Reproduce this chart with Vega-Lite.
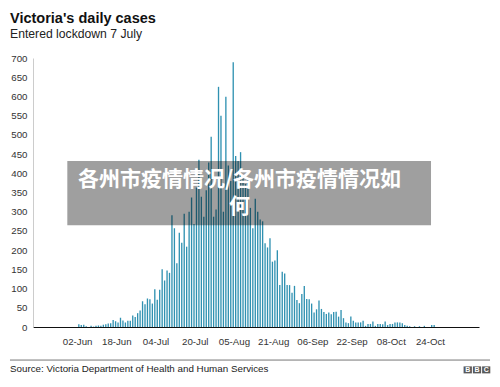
{
  "$schema": "https://vega.github.io/schema/vega-lite/v6.json",
  "width": 446,
  "height": 269,
  "autosize": {"type": "none"},
  "padding": {"left": 33, "top": 58, "right": 21, "bottom": 60},
  "background": "white",
  "title": {
    "text": "Victoria's daily cases",
    "subtitle": "Entered lockdown 7 July",
    "anchor": "start",
    "frame": "group",
    "dx": -23,
    "offset": 12,
    "font": "Liberation Sans",
    "fontSize": 14.5,
    "fontWeight": "bold",
    "color": "#111111",
    "subtitleFont": "Liberation Sans",
    "subtitleFontSize": 12.2,
    "subtitleColor": "#222222",
    "subtitlePadding": 1
  },
  "config": {"view": {"stroke": null}},
  "resolve": {"axis": {"x": "independent", "y": "independent"}},
  "datasets": {
    "cases": [
      {"date": "2020-06-02", "cases": 7}, {"date": "2020-06-03", "cases": 5}, {"date": "2020-06-04", "cases": 6},
      {"date": "2020-06-05", "cases": 2}, {"date": "2020-06-06", "cases": 0}, {"date": "2020-06-07", "cases": 3},
      {"date": "2020-06-08", "cases": 1}, {"date": "2020-06-09", "cases": 3}, {"date": "2020-06-10", "cases": 4},
      {"date": "2020-06-11", "cases": 3}, {"date": "2020-06-12", "cases": 6}, {"date": "2020-06-13", "cases": 7},
      {"date": "2020-06-14", "cases": 9}, {"date": "2020-06-15", "cases": 10}, {"date": "2020-06-16", "cases": 18},
      {"date": "2020-06-17", "cases": 15}, {"date": "2020-06-18", "cases": 12}, {"date": "2020-06-19", "cases": 24},
      {"date": "2020-06-20", "cases": 17}, {"date": "2020-06-21", "cases": 12}, {"date": "2020-06-22", "cases": 16},
      {"date": "2020-06-23", "cases": 16}, {"date": "2020-06-24", "cases": 30}, {"date": "2020-06-25", "cases": 26},
      {"date": "2020-06-26", "cases": 36}, {"date": "2020-06-27", "cases": 43}, {"date": "2020-06-28", "cases": 67},
      {"date": "2020-06-29", "cases": 59}, {"date": "2020-06-30", "cases": 74}, {"date": "2020-07-01", "cases": 72},
      {"date": "2020-07-02", "cases": 61}, {"date": "2020-07-03", "cases": 98}, {"date": "2020-07-04", "cases": 71},
      {"date": "2020-07-05", "cases": 97}, {"date": "2020-07-06", "cases": 150}, {"date": "2020-07-07", "cases": 121},
      {"date": "2020-07-08", "cases": 147}, {"date": "2020-07-09", "cases": 141}, {"date": "2020-07-10", "cases": 291},
      {"date": "2020-07-11", "cases": 257}, {"date": "2020-07-12", "cases": 166}, {"date": "2020-07-13", "cases": 245},
      {"date": "2020-07-14", "cases": 219}, {"date": "2020-07-15", "cases": 295}, {"date": "2020-07-16", "cases": 209},
      {"date": "2020-07-17", "cases": 300}, {"date": "2020-07-18", "cases": 337}, {"date": "2020-07-19", "cases": 268},
      {"date": "2020-07-20", "cases": 363}, {"date": "2020-07-21", "cases": 435}, {"date": "2020-07-22", "cases": 339},
      {"date": "2020-07-23", "cases": 287}, {"date": "2020-07-24", "cases": 356}, {"date": "2020-07-25", "cases": 428},
      {"date": "2020-07-26", "cases": 495}, {"date": "2020-07-27", "cases": 287}, {"date": "2020-07-28", "cases": 306},
      {"date": "2020-07-29", "cases": 625}, {"date": "2020-07-30", "cases": 550}, {"date": "2020-07-31", "cases": 300},
      {"date": "2020-08-01", "cases": 599}, {"date": "2020-08-02", "cases": 420}, {"date": "2020-08-03", "cases": 380},
      {"date": "2020-08-04", "cases": 689}, {"date": "2020-08-05", "cases": 445}, {"date": "2020-08-06", "cases": 432},
      {"date": "2020-08-07", "cases": 455}, {"date": "2020-08-08", "cases": 395}, {"date": "2020-08-09", "cases": 372},
      {"date": "2020-08-10", "cases": 390}, {"date": "2020-08-11", "cases": 310}, {"date": "2020-08-12", "cases": 257},
      {"date": "2020-08-13", "cases": 334}, {"date": "2020-08-14", "cases": 300}, {"date": "2020-08-15", "cases": 280},
      {"date": "2020-08-16", "cases": 275}, {"date": "2020-08-17", "cases": 218}, {"date": "2020-08-18", "cases": 207},
      {"date": "2020-08-19", "cases": 231}, {"date": "2020-08-20", "cases": 170}, {"date": "2020-08-21", "cases": 173},
      {"date": "2020-08-22", "cases": 200}, {"date": "2020-08-23", "cases": 109}, {"date": "2020-08-24", "cases": 144},
      {"date": "2020-08-25", "cases": 139}, {"date": "2020-08-26", "cases": 109}, {"date": "2020-08-27", "cases": 109},
      {"date": "2020-08-28", "cases": 89}, {"date": "2020-08-29", "cases": 107}, {"date": "2020-08-30", "cases": 70},
      {"date": "2020-08-31", "cases": 62}, {"date": "2020-09-01", "cases": 86}, {"date": "2020-09-02", "cases": 107},
      {"date": "2020-09-03", "cases": 73}, {"date": "2020-09-04", "cases": 72}, {"date": "2020-09-05", "cases": 61},
      {"date": "2020-09-06", "cases": 38}, {"date": "2020-09-07", "cases": 46}, {"date": "2020-09-08", "cases": 69},
      {"date": "2020-09-09", "cases": 47}, {"date": "2020-09-10", "cases": 39}, {"date": "2020-09-11", "cases": 34},
      {"date": "2020-09-12", "cases": 38}, {"date": "2020-09-13", "cases": 33}, {"date": "2020-09-14", "cases": 39},
      {"date": "2020-09-15", "cases": 40}, {"date": "2020-09-16", "cases": 27}, {"date": "2020-09-17", "cases": 44},
      {"date": "2020-09-18", "cases": 23}, {"date": "2020-09-19", "cases": 12}, {"date": "2020-09-20", "cases": 10},
      {"date": "2020-09-21", "cases": 27}, {"date": "2020-09-22", "cases": 16}, {"date": "2020-09-23", "cases": 12},
      {"date": "2020-09-24", "cases": 12}, {"date": "2020-09-25", "cases": 12}, {"date": "2020-09-26", "cases": 16},
      {"date": "2020-09-27", "cases": 3}, {"date": "2020-09-28", "cases": 8}, {"date": "2020-09-29", "cases": 8},
      {"date": "2020-09-30", "cases": 14}, {"date": "2020-10-01", "cases": 3}, {"date": "2020-10-02", "cases": 8},
      {"date": "2020-10-03", "cases": 8}, {"date": "2020-10-04", "cases": 7}, {"date": "2020-10-05", "cases": 14},
      {"date": "2020-10-06", "cases": 5}, {"date": "2020-10-07", "cases": 8}, {"date": "2020-10-08", "cases": 8},
      {"date": "2020-10-09", "cases": 12}, {"date": "2020-10-10", "cases": 12}, {"date": "2020-10-11", "cases": 12},
      {"date": "2020-10-12", "cases": 10}, {"date": "2020-10-13", "cases": 5}, {"date": "2020-10-14", "cases": 3},
      {"date": "2020-10-15", "cases": 2}, {"date": "2020-10-16", "cases": 0}, {"date": "2020-10-17", "cases": 2},
      {"date": "2020-10-18", "cases": 0}, {"date": "2020-10-19", "cases": 2}, {"date": "2020-10-20", "cases": 0},
      {"date": "2020-10-21", "cases": 3}, {"date": "2020-10-22", "cases": 0}, {"date": "2020-10-23", "cases": 0},
      {"date": "2020-10-24", "cases": 5}, {"date": "2020-10-25", "cases": 5}
    ]
  },
  "layer": [
    {
      "data": {"name": "cases"},
      "mark": {"type": "bar", "color": "#2f91b1", "width": {"band": 0.95}},
      "encoding": {
        "x": {
          "field": "date",
          "timeUnit": "utcyearmonthdate",
          "type": "temporal",
          "scale": {"domain": [{"year": 2020, "month": 5, "date": 15, "utc": true}, {"year": 2020, "month": 11, "date": 13, "utc": true}]},
          "axis": {
            "title": null,
            "values": [
              {"year": 2020, "month": 6, "date": 2, "utc": true},
              {"year": 2020, "month": 6, "date": 18, "utc": true},
              {"year": 2020, "month": 7, "date": 4, "utc": true},
              {"year": 2020, "month": 7, "date": 20, "utc": true},
              {"year": 2020, "month": 8, "date": 5, "utc": true},
              {"year": 2020, "month": 8, "date": 21, "utc": true},
              {"year": 2020, "month": 9, "date": 6, "utc": true},
              {"year": 2020, "month": 9, "date": 22, "utc": true},
              {"year": 2020, "month": 10, "date": 8, "utc": true},
              {"year": 2020, "month": 10, "date": 24, "utc": true}
            ],
            "format": "%d-%b",
            "grid": false,
            "ticks": false,
            "tickSize": 0,
            "labelPadding": 9,
            "labelOverlap": false,
            "labelFlush": false,
            "labelFont": "Liberation Sans",
            "labelFontSize": 9.7,
            "labelColor": "#333333",
            "domainColor": "#111111",
            "domainWidth": 1,
            "labelAngle": 0
          }
        },
        "y": {
          "field": "cases",
          "type": "quantitative",
          "scale": {"domain": [0, 700]},
          "axis": {
            "title": null,
            "values": [0, 50, 100, 150, 200, 250, 300, 350, 400, 450, 500, 550, 600, 650, 700],
            "grid": false,
            "ticks": false,
            "tickSize": 0,
            "labelPadding": 6,
            "labelOverlap": false,
            "labelFlush": false,
            "labelFont": "Liberation Sans",
            "labelFontSize": 9.7,
            "labelColor": "#333333",
            "domainColor": "#cccccc",
            "domainWidth": 1
          }
        }
      }
    },
    {
      "data": {"values": [{}]},
      "mark": {"type": "rect", "color": "#000000", "opacity": 0.375},
      "encoding": {
        "x": {"datum": {"year": 2020, "month": 5, "date": 29, "utc": true}, "type": "temporal", "axis": null},
        "x2": {"datum": {"year": 2020, "month": 10, "date": 24, "hours": 10, "utc": true}},
        "y": {"datum": 265, "type": "quantitative", "axis": null},
        "y2": {"datum": 432}
      }
    },
    {
      "data": {"values": [{}]},
      "mark": {
        "type": "text",
        "text": ["各州市疫情情况/各州市疫情情况如", "何"],
        "font": "Noto Sans CJK SC",
        "fontWeight": "bold",
        "fontSize": 21,
        "lineHeight": 27,
        "align": "center",
        "baseline": "middle",
        "color": "#ffffff"
      },
      "encoding": {
        "x": {"datum": {"year": 2020, "month": 8, "date": 7, "hours": 7, "utc": true}, "type": "temporal", "axis": null},
        "y": {"datum": 382, "type": "quantitative", "axis": null}
      }
    },
    {
      "data": {"values": [{}]},
      "mark": {"type": "rule", "color": "#777777", "strokeWidth": 1},
      "encoding": {
        "x": {"datum": {"year": 2020, "month": 5, "date": 5, "hours": 14, "minutes": 40, "utc": true}, "type": "temporal", "axis": null},
        "x2": {"datum": {"year": 2020, "month": 11, "date": 17, "hours": 12, "utc": true}},
        "y": {"datum": -86, "type": "quantitative", "axis": null}
      }
    },
    {
      "data": {"values": [{}]},
      "mark": {
        "type": "text",
        "text": "Source: Victoria Department of Health and Human Services",
        "font": "Liberation Sans",
        "fontSize": 9.8,
        "align": "left",
        "baseline": "alphabetic",
        "color": "#222222"
      },
      "encoding": {
        "x": {"datum": {"year": 2020, "month": 5, "date": 5, "hours": 14, "minutes": 40, "utc": true}, "type": "temporal", "axis": null},
        "y": {"datum": -115.8, "type": "quantitative", "axis": null}
      }
    },
    {
      "data": {"values": [{}]},
      "mark": {"type": "rect", "color": "#5a5a5a"},
      "encoding": {
        "x": {"datum": {"year": 2020, "month": 11, "date": 6, "hours": 17, "utc": true}, "type": "temporal", "axis": null},
        "x2": {"datum": {"year": 2020, "month": 11, "date": 10, "hours": 2, "minutes": 24, "utc": true}},
        "y": {"datum": -102.5, "type": "quantitative", "axis": null},
        "y2": {"datum": -120.7}
      }
    },
    {
      "data": {"values": [{}]},
      "mark": {"type": "rect", "color": "#5a5a5a"},
      "encoding": {
        "x": {"datum": {"year": 2020, "month": 11, "date": 10, "hours": 12, "minutes": 14, "utc": true}, "type": "temporal", "axis": null},
        "x2": {"datum": {"year": 2020, "month": 11, "date": 13, "hours": 20, "minutes": 38, "utc": true}},
        "y": {"datum": -102.5, "type": "quantitative", "axis": null},
        "y2": {"datum": -120.7}
      }
    },
    {
      "data": {"values": [{}]},
      "mark": {"type": "rect", "color": "#5a5a5a"},
      "encoding": {
        "x": {"datum": {"year": 2020, "month": 11, "date": 14, "hours": 6, "minutes": 29, "utc": true}, "type": "temporal", "axis": null},
        "x2": {"datum": {"year": 2020, "month": 11, "date": 17, "hours": 14, "minutes": 38, "utc": true}},
        "y": {"datum": -102.5, "type": "quantitative", "axis": null},
        "y2": {"datum": -120.7}
      }
    },
    {
      "data": {"values": [{}]},
      "mark": {"type": "text", "text": "B", "font": "Liberation Sans", "fontWeight": "bold", "fontSize": 7, "align": "center", "baseline": "middle", "color": "#ffffff"},
      "encoding": {
        "x": {"datum": {"year": 2020, "month": 11, "date": 8, "hours": 9, "minutes": 50, "utc": true}, "type": "temporal", "axis": null},
        "y": {"datum": -111.9, "type": "quantitative", "axis": null}
      }
    },
    {
      "data": {"values": [{}]},
      "mark": {"type": "text", "text": "B", "font": "Liberation Sans", "fontWeight": "bold", "fontSize": 7, "align": "center", "baseline": "middle", "color": "#ffffff"},
      "encoding": {
        "x": {"datum": {"year": 2020, "month": 11, "date": 12, "hours": 4, "minutes": 19, "utc": true}, "type": "temporal", "axis": null},
        "y": {"datum": -111.9, "type": "quantitative", "axis": null}
      }
    },
    {
      "data": {"values": [{}]},
      "mark": {"type": "text", "text": "C", "font": "Liberation Sans", "fontWeight": "bold", "fontSize": 7, "align": "center", "baseline": "middle", "color": "#ffffff"},
      "encoding": {
        "x": {"datum": {"year": 2020, "month": 11, "date": 15, "hours": 22, "minutes": 34, "utc": true}, "type": "temporal", "axis": null},
        "y": {"datum": -111.9, "type": "quantitative", "axis": null}
      }
    }
  ]
}
